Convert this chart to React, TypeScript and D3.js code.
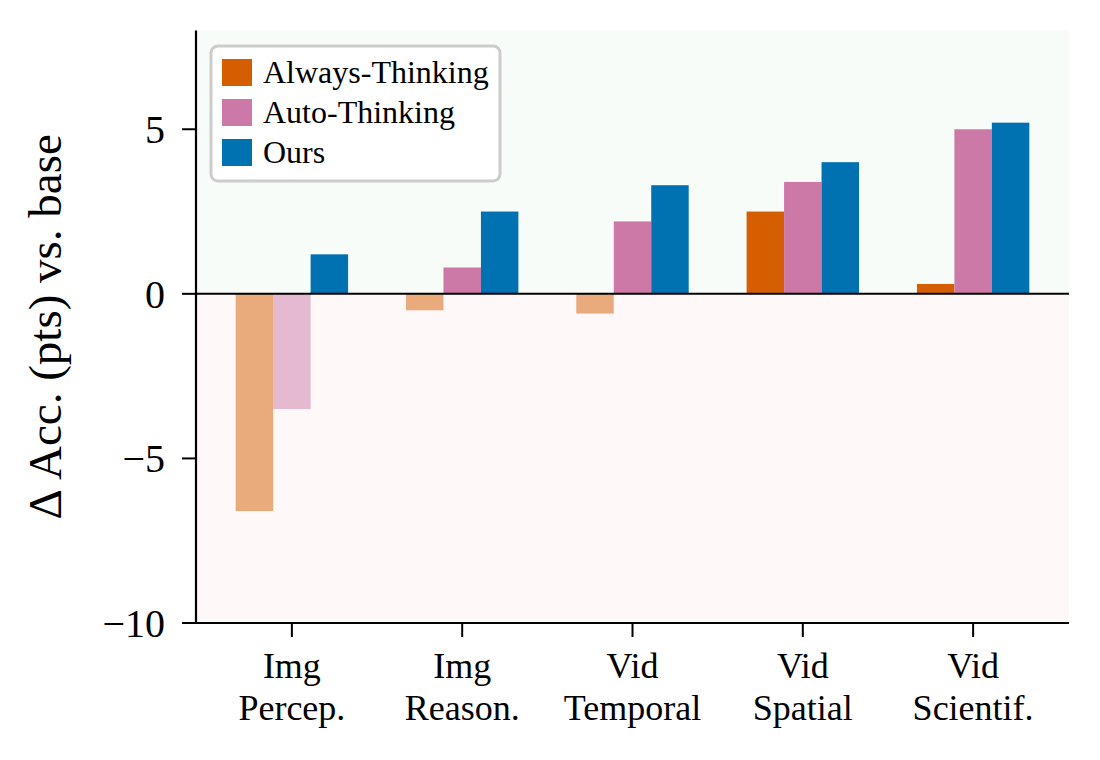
import React from "react";
import * as d3 from "d3";

// categories and series
const categories: string[][] = [
  ["Img", "Percep."],
  ["Img", "Reason."],
  ["Vid", "Temporal"],
  ["Vid", "Spatial"],
  ["Vid", "Scientif."],
];
const seriesNames = ["Always-Thinking", "Auto-Thinking", "Ours"];
const alwaysThinking = [-6.6, -0.5, -0.6, 2.5, 0.3];
const autoThinking = [-3.5, 0.8, 2.2, 3.4, 5.0];
const ours = [1.2, 2.5, 3.3, 4.0, 5.2];
const seriesColors = ["#d55e00", "#cc79a7", "#0072b2"];
const yTicks = [-10, -5, 0, 5];

const W = 1100;
const H = 760;
const margin = { top: 30.5, right: 31, bottom: 137, left: 196 };
const font = "'Liberation Serif', 'Times New Roman', 'DejaVu Serif', serif";

const App = () => {
  const series = [alwaysThinking, autoThinking, ours];
  const barW = 0.22;
  const n = categories.length;
  const pad = (n - 1 + 3 * barW) * 0.05;

  const x = d3
    .scaleLinear()
    .domain([-1.5 * barW - pad, n - 1 + 1.5 * barW + pad])
    .range([margin.left, W - margin.right]);
  const y = d3
    .scaleLinear()
    .domain([-10, 8])
    .range([H - margin.bottom, margin.top]);

  const x0 = margin.left;
  const x1 = W - margin.right;

  return (
    <svg
      width={W}
      height={H}
      style={{ position: "absolute", left: 0, top: 0, background: "#fff" }}
      fontFamily={font}
    >
      {/* shaded regions above/below zero */}
      <rect x={x0} y={y(8)} width={x1 - x0} height={y(0) - y(8)} fill="#2ca02c" fillOpacity={0.03} />
      <rect x={x0} y={y(0)} width={x1 - x0} height={y(-10) - y(0)} fill="#d62728" fillOpacity={0.03} />

      {/* bars */}
      {series.map((vals, si) =>
        vals.map((v, ci) => {
          const cx = ci + (si - 1) * barW;
          const left = x(cx - barW / 2);
          const right = x(cx + barW / 2);
          return (
            <rect
              key={`${si}-${ci}`}
              x={left}
              y={Math.min(y(v), y(0))}
              width={right - left}
              height={Math.abs(y(v) - y(0))}
              fill={seriesColors[si]}
              fillOpacity={v < 0 ? 0.5 : 1}
            />
          );
        })
      )}

      {/* zero line */}
      <line x1={x0} x2={x1} y1={y(0)} y2={y(0)} stroke="#000" strokeWidth={2} />

      {/* y axis */}
      <line x1={x0} x2={x0} y1={y(8)} y2={y(-10)} stroke="#000" strokeWidth={2.2} />
      {yTicks.map((t) => (
        <g key={t}>
          <line x1={x0 - 14} x2={x0} y1={y(t)} y2={y(t)} stroke="#000" strokeWidth={2} />
          <text x={x0 - 31} y={y(t)} dy="0.35em" textAnchor="end" fontSize={40}>
            {t < 0 ? `\u2212${Math.abs(t)}` : t}
          </text>
        </g>
      ))}
      <text
        transform={`translate(61, ${(y(8) + y(-10)) / 2}) rotate(-90)`}
        textAnchor="middle"
        fontSize={47}
      >
        Δ Acc. (pts) vs. base
      </text>

      {/* x axis */}
      <line x1={x0 - 1} x2={x1} y1={y(-10)} y2={y(-10)} stroke="#000" strokeWidth={2.2} />
      {categories.map((lines, ci) => (
        <g key={ci}>
          <line x1={x(ci)} x2={x(ci)} y1={y(-10)} y2={y(-10) + 14} stroke="#000" strokeWidth={2} />
          {lines.map((s, li) => (
            <text key={li} x={x(ci)} y={y(-10) + 55 + li * 42} textAnchor="middle" fontSize={36}>
              {s}
            </text>
          ))}
        </g>
      ))}

      {/* legend */}
      <rect x={211} y={46} width={289} height={135} rx={7} fill="#fff" fillOpacity={0.9} stroke="#cccccc" strokeWidth={3} />
      {seriesNames.map((name, i) => (
        <g key={name} transform={`translate(0, ${72 + i * 40})`}>
          <rect x={222} y={-13} width={30} height={27} fill={seriesColors[i]} />
          <text x={263} y={0} dy="0.35em" fontSize={32}>
            {name}
          </text>
        </g>
      ))}
    </svg>
  );
};

export default App;
